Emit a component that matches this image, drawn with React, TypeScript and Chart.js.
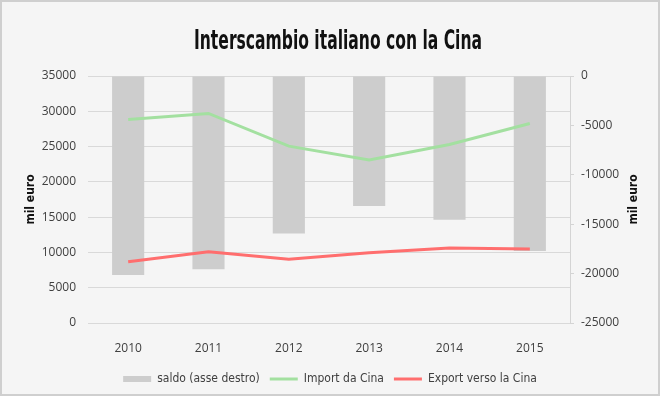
import React, { useEffect, useRef } from 'react';
import { Chart, registerables } from 'chart.js';

Chart.register(...registerables);

const TITLE = 'Interscambio italiano con la Cina';
const AXIS_TITLE = 'mil euro';
const YEARS = ['2010', '2011', '2012', '2013', '2014', '2015'];
const SALDO_LABEL = 'saldo (asse destro)';
const IMPORT_LABEL = 'Import da Cina';
const EXPORT_LABEL = 'Export verso la Cina';
const SALDO = [-20150, -19550, -15950, -13150, -14550, -17700];
const IMPORT = [28850, 29690, 25060, 23090, 25300, 28260];
const EXPORT = [8670, 10090, 9050, 9940, 10640, 10490];
const LEFT_MIN = 0;
const LEFT_MAX = 35000;
const LEFT_STEP = 5000;
const RIGHT_MIN = -25000;
const RIGHT_MAX = 0;
const RIGHT_STEP = 5000;

const NARROW = '"DejaVu Sans Condensed", "Liberation Sans Narrow", sans-serif';
const TICK_FONT = '"Open Sans", "DejaVu Sans", sans-serif';

const bgPlugin = {
  id: 'bgPlugin',
  beforeDraw(chart: any) {
    const { ctx, width, height } = chart;
    ctx.save();
    ctx.fillStyle = '#f5f5f5';
    ctx.fillRect(0, 0, width, height);
    ctx.strokeStyle = '#cfcfcf';
    ctx.lineWidth = 2;
    ctx.strokeRect(1, 1, width - 2, height - 2);
    ctx.restore();
  },
  afterDraw(chart: any) {
    const { ctx, chartArea } = chart;
    ctx.save();
    ctx.font = `bold 27px ${NARROW}`;
    ctx.fillStyle = '#111111';
    ctx.textBaseline = 'alphabetic';
    ctx.textAlign = 'center';
    const w = ctx.measureText(TITLE).width;
    const sx = 288 / w;
    ctx.translate(338, 49);
    ctx.scale(sx, 1);
    ctx.fillText(TITLE, 0, 0);
    ctx.restore();

    // right axis title, rotated like the left one
    ctx.save();
    ctx.font = `bold 12px ${NARROW}`;
    ctx.fillStyle = '#111111';
    ctx.textAlign = 'center';
    ctx.textBaseline = 'middle';
    ctx.translate(634, (chartArea.top + chartArea.bottom) / 2);
    ctx.rotate(-Math.PI / 2);
    ctx.fillText(AXIS_TITLE, 0, 0);
    ctx.restore();
  },
};

function ChartView() {
  const ref = useRef<HTMLCanvasElement | null>(null);
  useEffect(() => {
    document.body.style.margin = '0';
    const canvas = ref.current;
    if (!canvas) return;
    const chart = new Chart(canvas, {
      type: 'bar',
      data: {
        labels: YEARS,
        datasets: [
          {
            type: 'bar',
            label: SALDO_LABEL,
            data: SALDO,
            yAxisID: 'y1',
            backgroundColor: '#cdcdcd',
            borderWidth: 0,
            barPercentage: 0.4,
            categoryPercentage: 1,
            order: 2,
            pointStyle: 'rect',
          } as any,
          {
            type: 'line',
            label: IMPORT_LABEL,
            data: IMPORT,
            yAxisID: 'y',
            borderColor: '#a3e0a0',
            backgroundColor: '#a3e0a0',
            borderWidth: 3,
            pointRadius: 0,
            pointHoverRadius: 0,
            tension: 0,
            order: 1,
            pointStyle: 'line',
          } as any,
          {
            type: 'line',
            label: EXPORT_LABEL,
            data: EXPORT,
            yAxisID: 'y',
            borderColor: '#ff6e6e',
            backgroundColor: '#ff6e6e',
            borderWidth: 3,
            pointRadius: 0,
            pointHoverRadius: 0,
            tension: 0,
            order: 0,
            pointStyle: 'line',
          } as any,
        ],
      },
      options: {
        animation: false,
        responsive: false,
        maintainAspectRatio: false,
        layout: { padding: { top: 76, left: 20, right: 20, bottom: 1 } },
        plugins: {
          title: { display: false },
          tooltip: { enabled: false },
          legend: {
            position: 'bottom',
            labels: {
              usePointStyle: true,
              pointStyleWidth: 28,
              boxHeight: 6,
              padding: 10,
              color: '#404040',
              font: { family: NARROW, size: 12 },
              sort: (a: any, b: any) => a.datasetIndex - b.datasetIndex,
            },
          },
        },
        scales: {
          x: {
            grid: { display: false },
            border: { display: false },
            ticks: { color: '#404040', font: { family: TICK_FONT, size: 12 }, padding: 10 },
            afterFit(scale: any) {
              scale.height = 40;
            },
          },
          y: {
            position: 'left',
            min: LEFT_MIN,
            max: LEFT_MAX,
            ticks: {
              stepSize: LEFT_STEP,
              color: '#404040',
              font: { family: TICK_FONT, size: 12 },
              padding: 12,
              callback: (v: any) => String(v),
            },
            grid: { color: '#d9d9d9', drawTicks: false, lineWidth: 1 },
            border: { display: false },
            title: {
              display: true,
              text: AXIS_TITLE,
              color: '#111111',
              font: { family: NARROW, size: 12, weight: 'bold' },
              padding: { top: 4, bottom: 0 },
            },
            afterFit(scale: any) {
              scale.width = 68;
            },
          },
          y1: {
            position: 'right',
            min: RIGHT_MIN,
            max: RIGHT_MAX,
            ticks: {
              stepSize: RIGHT_STEP,
              color: '#404040',
              font: { family: TICK_FONT, size: 12 },
              padding: 7,
              callback: (v: any) => String(v),
            },
            grid: { drawOnChartArea: false, drawTicks: true, tickLength: 4, color: '#d4d4d4' },
            border: { display: true, color: '#d4d4d4' },
            title: { display: false },
            afterFit(scale: any) {
              scale.width = 70;
            },
          },
        },
      } as any,
      plugins: [bgPlugin],
    });
    return () => chart.destroy();
  }, []);
  return <canvas ref={ref} width={660} height={396} style={{ display: 'block', width: 660, height: 396 }} />;
}

export default function App() {
  return <ChartView />;
}
